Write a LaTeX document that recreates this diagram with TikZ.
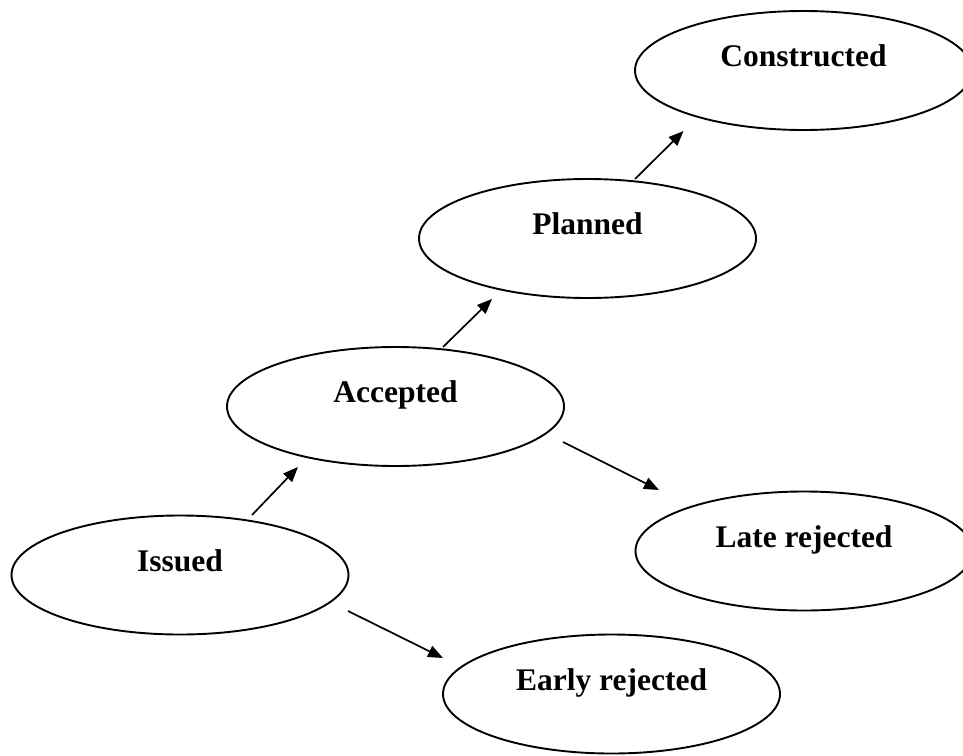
\documentclass[tikz,border=0pt]{standalone}
\usepackage{fontspec}
\setmainfont{Liberation Serif}
\usetikzlibrary{shapes.geometric,arrows.meta,calc}
\begin{document}
\begin{tikzpicture}[x=1pt,y=-1pt,
  state/.style={ellipse,draw,line width=1.9pt,minimum width=337pt,minimum height=119pt,
    inner sep=0pt,font=\fontsize{31.5}{36}\selectfont\bfseries,text height=8pt,text depth=16pt},
  arr/.style={line width=1.7pt,-{Triangle[length=15pt,width=12pt]}}]
\useasboundingbox (0,0) rectangle (963,755);
\clip (0,0) rectangle (963,755);
\node[state] (con) at (803.5,70.5) {Constructed};
\node[state] (pla) at (587.5,238.5) {Planned};
\node[state] (acc) at (395.5,406.5) {Accepted};
\node[state] (late) at (804,551) {Late rejected};
\node[state] (iss) at (180,575) {Issued};
\node[state] (early) at (611.5,694) {Early rejected};
\coordinate (s1) at ($(iss)+(72,-60)$);
\coordinate (t1) at ($(acc)+(-97.5,60.5)$);
\coordinate (s2) at ($(acc)+(47.5,-59.5)$);
\coordinate (t2) at ($(pla)+(-95.5,60.5)$);
\coordinate (s3) at ($(pla)+(47.5,-59.5)$);
\coordinate (t3) at ($(con)+(-120,60.5)$);
\coordinate (s4) at ($(acc)+(167.5,35.5)$);
\coordinate (t4) at ($(late)+(-145,-61)$);
\coordinate (s5) at ($(iss)+(168,36)$);
\coordinate (t5) at ($(early)+(-168.5,-36)$);
\draw[arr] (s1) -- (t1);
\draw[arr] (s2) -- (t2);
\draw[arr] (s3) -- (t3);
\draw[arr] (s4) -- (t4);
\draw[arr] (s5) -- (t5);
\end{tikzpicture}
\end{document}
